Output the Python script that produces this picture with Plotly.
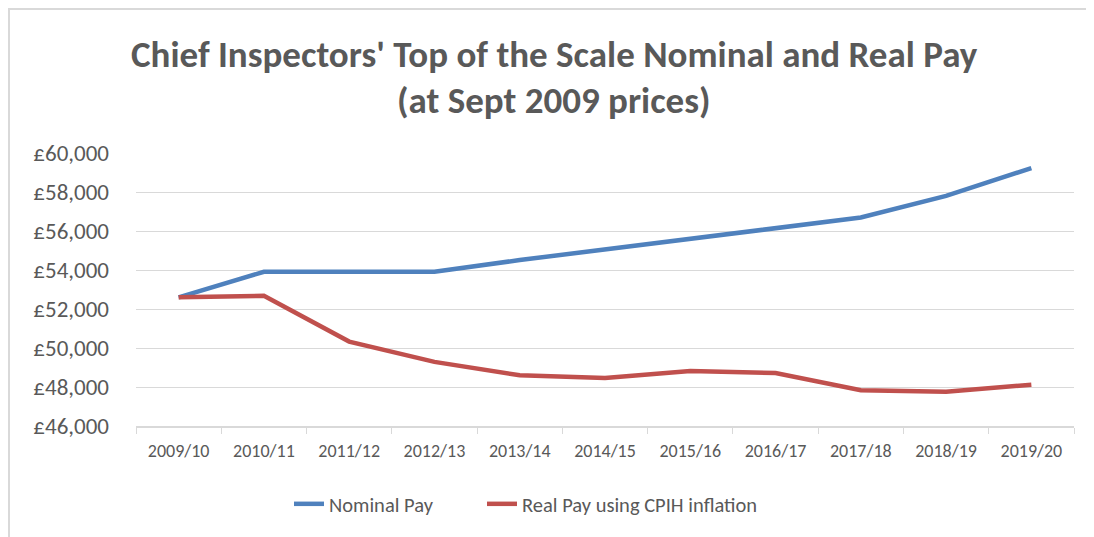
import plotly.graph_objects as go

years = ["2009/10", "2010/11", "2011/12", "2012/13", "2013/14", "2014/15",
         "2015/16", "2016/17", "2017/18", "2018/19", "2019/20"]
nominal_pay = [52600, 53910, 53910, 53910, 54510, 55050, 55580, 56140, 56690, 57800, 59230]
real_pay = [52600, 52680, 50330, 49290, 48600, 48460, 48820, 48720, 47830, 47760, 48120]

title_line1 = "Chief Inspectors' Top of the Scale Nominal and Real Pay"
title_line2 = "(at Sept 2009 prices)"

FONT = "Calibri, Carlito, Lato, sans-serif"
GREY = "#595959"

fig = go.Figure()
fig.add_trace(go.Scatter(x=years, y=nominal_pay, mode="lines", name="Nominal Pay",
                         line=dict(color="#4f81bd", width=4.5), legend="legend"))
fig.add_trace(go.Scatter(x=years, y=real_pay, mode="lines", name="Real Pay using CPIH inflation",
                         line=dict(color="#c0504d", width=4.5), legend="legend2"))

# page body has an 8px margin, so figure coordinates = screen - 8
W, H = 1086, 529
L, R, T, B = 128, 20, 145, 111
ph = H - T - B
pw = W - L - R

def px2x(px):
    return (px - L) / pw

def py2y(py):
    return (H - B - py) / ph

legend_common = dict(orientation="h", xanchor="left", y=py2y(496), yanchor="middle",
                     font=dict(size=20.5, color=GREY), bgcolor="rgba(0,0,0,0)")

fig.update_layout(
    width=W, height=H,
    margin=dict(l=L, r=R, t=T, b=B, autoexpand=False),
    paper_bgcolor="white", plot_bgcolor="white",
    font=dict(family=FONT, color=GREY),
    xaxis=dict(type="category", range=[-0.5, 10.5], showgrid=False,
               showline=True, linecolor="#d9d9d9", linewidth=1.5,
               ticks="outside", tickson="boundaries", ticklen=6, tickcolor="#d9d9d9",
               tickfont=dict(size=18, color=GREY), ticklabelstandoff=8, fixedrange=True),
    yaxis=dict(range=[46000, 60000], dtick=2000, tickprefix="£", tickformat=",",
               showgrid=True, gridcolor="#d9d9d9", gridwidth=1.3, zeroline=False,
               showline=False, tickfont=dict(size=23, color=GREY), ticks="",
               ticklabelstandoff=26, fixedrange=True),
    legend=dict(x=px2x(281), **legend_common),
    legend2=dict(x=px2x(474), **legend_common),
    showlegend=True,
)

fig.add_annotation(text="<b>" + title_line1 + "</b>", xref="paper", yref="paper",
                   x=px2x(546), y=py2y(47), xanchor="center", yanchor="middle",
                   showarrow=False, font=dict(size=37, color=GREY, family=FONT))
fig.add_annotation(text="<b>" + title_line2 + "</b>", xref="paper", yref="paper",
                   x=px2x(546), y=py2y(92), xanchor="center", yanchor="middle",
                   showarrow=False, font=dict(size=37, color=GREY, family=FONT))

# outer chart frame (partially visible)
fig.add_shape(type="line", xref="paper", yref="paper",
              x0=px2x(0), x1=px2x(W + 5), y0=py2y(1), y1=py2y(1),
              line=dict(color="#d9d9d9", width=2))
fig.add_shape(type="line", xref="paper", yref="paper",
              x0=px2x(1), x1=px2x(1), y0=py2y(0), y1=py2y(H + 5),
              line=dict(color="#d9d9d9", width=2))

fig.write_html("out.html")
